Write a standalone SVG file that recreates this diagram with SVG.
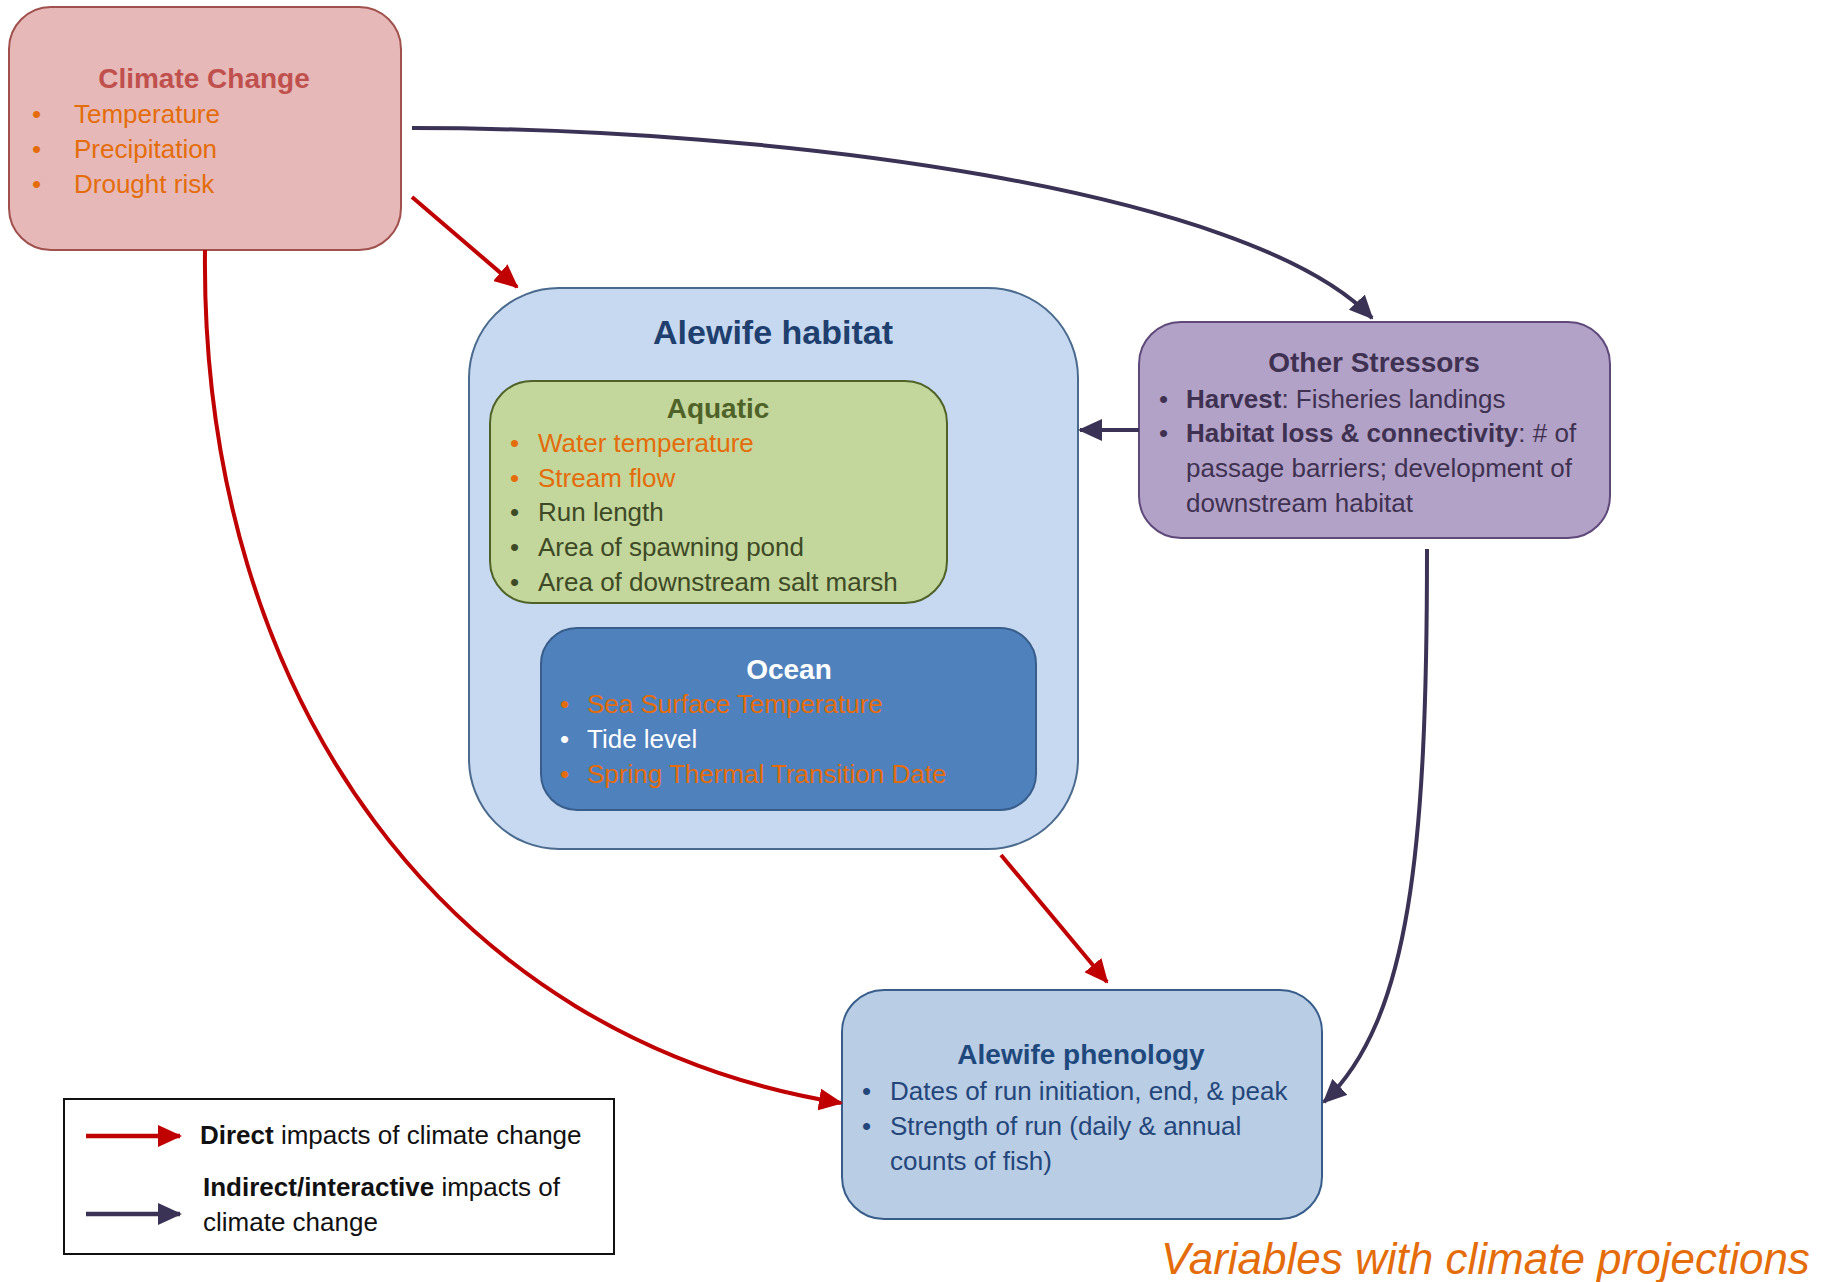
<svg xmlns="http://www.w3.org/2000/svg" width="1821" height="1282" viewBox="0 0 1821 1282">
<style>
text{font-family:"Liberation Sans",Arial,sans-serif;}
.t{font-weight:bold;font-size:28px;text-anchor:middle;}
.i{font-size:26px;}
.b{font-weight:bold;}
.or{fill:#e46c0a;}
.red{stroke:#c00000;fill:none;stroke-width:4;}
.dk{stroke:#3b3355;fill:none;stroke-width:4;}
</style>
<defs>
<marker id="ar" viewBox="0 0 24 22" refX="22" refY="11" markerWidth="24" markerHeight="22" markerUnits="userSpaceOnUse" orient="auto"><path d="M0,0 L24,11 L0,22 z" fill="#c00000"/></marker>
<marker id="ad" viewBox="0 0 24 22" refX="22" refY="11" markerWidth="24" markerHeight="22" markerUnits="userSpaceOnUse" orient="auto"><path d="M0,0 L24,11 L0,22 z" fill="#3b3355"/></marker>
</defs>
<rect width="1821" height="1282" fill="#ffffff"/>

<g id="climate">
<rect x="9" y="7" width="392" height="243" rx="42" fill="#e6b9b8" stroke="#a0504d" stroke-width="2"/>
<text class="t" x="204" y="88" fill="#c0504d">Climate Change</text>
<text class="i or" x="32" y="123">•</text><text class="i or" x="74" y="123">Temperature</text>
<text class="i or" x="32" y="158">•</text><text class="i or" x="74" y="158">Precipitation</text>
<text class="i or" x="32" y="193">•</text><text class="i or" x="74" y="193">Drought risk</text>
</g>

<g id="habitat">
<rect x="469" y="288" width="609" height="561" rx="90" fill="#c6d9f1" stroke="#4a6a8e" stroke-width="2"/>
<text class="t" x="773" y="344" fill="#1f3f6e" style="font-size:34px">Alewife habitat</text>
</g>

<g id="aquatic">
<rect x="490" y="381" width="457" height="222" rx="42" fill="#c3d69b" stroke="#4f6228" stroke-width="2"/>
<text class="t" x="718" y="418" fill="#4f6228">Aquatic</text>
<text class="i or" x="510" y="452">•</text><text class="i or" x="538" y="452">Water temperature</text>
<text class="i or" x="510" y="487">•</text><text class="i or" x="538" y="487">Stream flow</text>
<g fill="#3e4a26">
<text class="i" x="510" y="521">•</text><text class="i" x="538" y="521">Run length</text>
<text class="i" x="510" y="556">•</text><text class="i" x="538" y="556">Area of spawning pond</text>
<text class="i" x="510" y="591">•</text><text class="i" x="538" y="591">Area of downstream salt marsh</text>
</g>
</g>

<g id="ocean">
<rect x="541" y="628" width="495" height="182" rx="36" fill="#4f81bd" stroke="#385d8a" stroke-width="2"/>
<text class="t" x="789" y="679" fill="#ffffff">Ocean</text>
<text class="i or" x="560" y="713">•</text><text class="i or" x="587" y="713">Sea Surface Temperature</text>
<text class="i" x="560" y="748" fill="#ffffff">•</text><text class="i" x="587" y="748" fill="#ffffff">Tide level</text>
<text class="i or" x="560" y="783">•</text><text class="i or" x="587" y="783">Spring Thermal Transition Date</text>
</g>

<g id="stressors">
<rect x="1139" y="322" width="471" height="216" rx="42" fill="#b3a2c7" stroke="#5f497a" stroke-width="2"/>
<text class="t" x="1374" y="372" fill="#3f3151">Other Stressors</text>
<g fill="#3f3151">
<text class="i" x="1159" y="408">•</text><text class="i" x="1186" y="408"><tspan class="b">Harvest</tspan>: Fisheries landings</text>
<text class="i" x="1159" y="442">•</text><text class="i" x="1186" y="442"><tspan class="b">Habitat loss &amp; connectivity</tspan>: # of</text>
<text class="i" x="1186" y="477">passage barriers; development of</text>
<text class="i" x="1186" y="512">downstream habitat</text>
</g>
</g>

<g id="phenology">
<rect x="842" y="990" width="480" height="229" rx="42" fill="#b9cde5" stroke="#385d8a" stroke-width="2"/>
<text class="t" x="1081" y="1064" fill="#1f497d">Alewife phenology</text>
<g fill="#24467a">
<text class="i" x="862" y="1100">•</text><text class="i" x="890" y="1100">Dates of run initiation, end, &amp; peak</text>
<text class="i" x="862" y="1135">•</text><text class="i" x="890" y="1135">Strength of run (daily &amp; annual</text>
<text class="i" x="890" y="1170">counts of fish)</text>
</g>
</g>

<g id="connectors">
<path class="red" d="M412,197 L517,287" marker-end="url(#ar)"/>
<path class="dk" d="M412,128 C780,128 1250,190 1372,318" marker-end="url(#ad)"/>
<path class="dk" d="M1139,430 L1080,430" marker-end="url(#ad)"/>
<path class="red" d="M205,250 C200,700 450,1040 841,1103" marker-end="url(#ar)"/>
<path class="red" d="M1001,855 L1107,982" marker-end="url(#ar)"/>
<path class="dk" d="M1427,549 C1427,850 1410,1020 1324,1102" marker-end="url(#ad)"/>
</g>

<g id="legend">
<rect x="64" y="1099" width="550" height="155" fill="#ffffff" stroke="#111111" stroke-width="2"/>
<path d="M86,1136 L180,1136" stroke="#c00000" stroke-width="4.5" marker-end="url(#ar)"/>
<path d="M86,1214 L180,1214" stroke="#3b3355" stroke-width="4.5" marker-end="url(#ad)"/>
<g fill="#111111">
<text class="i" x="200" y="1144"><tspan class="b">Direct</tspan> impacts of climate change</text>
<text class="i" x="203" y="1196"><tspan class="b">Indirect/interactive</tspan> impacts of</text>
<text class="i" x="203" y="1231">climate change</text>
</g>
</g>

<text x="1161" y="1274" fill="#e46c0a" style="font-size:44px;font-style:italic">Variables with climate projections</text>
</svg>
